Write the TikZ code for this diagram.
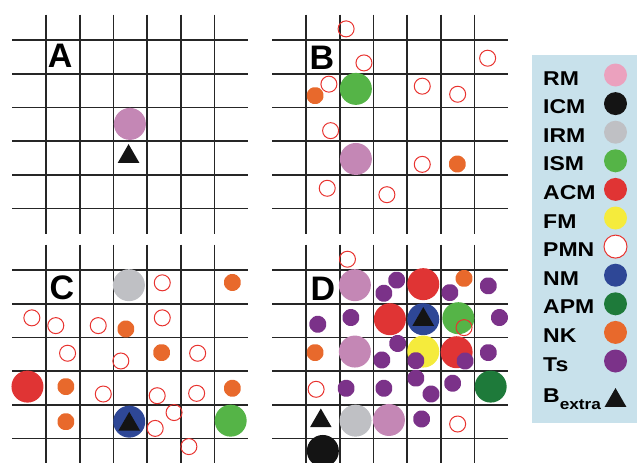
\documentclass[tikz,border=0pt]{standalone}
\usepackage{fontspec}
\setmainfont{Liberation Sans}
\newfontfamily\legendfont{Liberation Sans}[FakeStretch=1.15]
\usetikzlibrary{shapes.geometric}

\definecolor{rmpink}{HTML}{C487B5}
\definecolor{rmlegend}{HTML}{EBA1BE}
\definecolor{icmblack}{HTML}{141414}
\definecolor{irmgray}{HTML}{BFC0C4}
\definecolor{ismgreen}{HTML}{55B447}
\definecolor{acmred}{HTML}{E03434}
\definecolor{fmyellow}{HTML}{F5EB3C}
\definecolor{pmnred}{HTML}{E8332F}
\definecolor{nmblue}{HTML}{2E4796}
\definecolor{apmgreen}{HTML}{1E7A3A}
\definecolor{nkorange}{HTML}{E8692C}
\definecolor{tspurple}{HTML}{7B3289}
\definecolor{legendbg}{HTML}{C8E1EB}

\begin{document}
\begin{tikzpicture}[x=1pt, y=-1pt,
    gridline/.style={line width=1.6pt, black!85},
    pmn/.style={draw=pmnred, line width=1pt},
    small/.style={regular polygon, regular polygon sides=8, minimum size=18pt,
        inner sep=0pt, fill=#1, rounded corners=1.5pt},
    bextra/.style={regular polygon, regular polygon sides=3, minimum size=25pt,
        inner sep=0pt, fill=icmblack},
    panellabel/.style={font=\bfseries\fontsize{34}{34}\selectfont},
    legtext/.style={anchor=base west, inner sep=0pt,
        font=\legendfont\bfseries\fontsize{20}{20}\selectfont}]
    \useasboundingbox (0,0) rectangle (637,463);
    \clip (0,0) rectangle (637,463);

    % 面板 A
    \begin{scope}[xshift=46pt, yshift=-40pt, x=33.7pt, y=-33.7pt]
        \foreach \j in {0,...,5} \draw[gridline] (-1,\j) -- (6,\j);
        \foreach \i in {0,...,5} \draw[gridline] (\i,-0.75) -- (\i,5.75);
        \node[panellabel] (labA) at (0.42,0.48) {A};
        \fill[rmpink] (2.49,2.49) circle (16pt);
        \node[bextra] (triA) at (2.45,3.46) {};
    \end{scope}

    % 面板 B
    \begin{scope}[xshift=306pt, yshift=-40pt, x=33.7pt, y=-33.7pt]
        \foreach \j in {0,...,5} \draw[gridline] (-1,\j) -- (6,\j);
        \foreach \i in {0,...,5} \draw[gridline] (\i,-0.75) -- (\i,5.75);
        \node[panellabel] (labB) at (0.47,0.54) {B};
        \fill[ismgreen] (1.48,1.45) circle (16pt);
        \fill[rmpink] (1.48,3.53) circle (16pt);
        \foreach \p [count=\n] in {(0.27,1.65),(4.49,3.68)}
            \node[small=nkorange] (nkB\n) at \p {};
        \foreach \p in {(1.19,-0.33),(1.72,0.68),(5.39,0.54),(0.68,1.31),(3.45,1.37),
            (4.50,1.61),(0.73,2.69),(3.45,3.69),(0.63,4.40),(2.40,4.59)}
            \draw[pmn] \p circle (8pt);
    \end{scope}

    % 面板 C
    \begin{scope}[xshift=46pt, yshift=-270pt, x=33.7pt, y=-33.7pt]
        \foreach \j in {0,...,5} \draw[gridline] (-1,\j) -- (6,\j);
        \foreach \i in {0,...,5} \draw[gridline] (\i,-0.75) -- (\i,5.75);
        \node[panellabel] (labC) at (0.47,0.54) {C};
        \fill[irmgray] (2.46,0.45) circle (16pt);
        \fill[acmred] (-0.55,3.46) circle (16pt);
        \fill[nmblue] (2.47,4.50) circle (16pt);
        \fill[ismgreen] (5.48,4.47) circle (16pt);
        \foreach \p [count=\n] in {(5.53,0.37),(2.37,1.75),(3.43,2.45),(0.59,3.46),
            (5.53,3.51),(0.59,4.50)}
            \node[small=nkorange] (nkC\n) at \p {};
        \foreach \p in {(3.45,0.38),(-0.42,1.42),(0.29,1.65),(1.55,1.65),(3.45,1.42),
            (0.64,2.47),(2.22,2.70),(4.50,2.47),(1.70,3.68),(3.30,3.73),(4.47,3.66),
            (3.80,4.23),(3.24,4.70),(4.24,5.24)}
            \draw[pmn] \p circle (8pt);
        \node[bextra] (triC) at (2.47,4.58) {};
    \end{scope}

    % 面板 D
    \begin{scope}[xshift=306pt, yshift=-270pt, x=33.7pt, y=-33.7pt]
        \foreach \j in {0,...,5} \draw[gridline] (-1,\j) -- (6,\j);
        \foreach \i in {0,...,5} \draw[gridline] (\i,-0.75) -- (\i,5.75);
        \node[panellabel] (labD) at (0.50,0.56) {D};
        \foreach \p in {(1.45,0.45),(1.45,2.42),(2.46,4.45)}
            \fill[rmpink] \p circle (16pt);
        \foreach \p in {(3.48,0.42),(2.49,1.46),(4.47,2.44)}
            \fill[acmred] \p circle (16pt);
        \fill[nmblue] (3.48,1.46) circle (16pt);
        \fill[ismgreen] (4.52,1.43) circle (16pt);
        \fill[fmyellow] (3.48,2.42) circle (16pt);
        \fill[apmgreen] (5.48,3.46) circle (16pt);
        \fill[irmgray] (1.47,4.47) circle (16pt);
        \fill[icmblack] (0.50,5.37) circle (16pt);
        \foreach \p [count=\n] in {(4.69,0.25),(0.27,2.45)}
            \node[small=nkorange] (nkD\n) at \p {};
        \foreach \p [count=\n] in {(2.69,0.30),(2.31,0.69),(4.27,0.67),(5.41,0.47),
            (0.35,1.61),(1.33,1.41),(5.74,1.41),(2.72,2.18),(2.25,2.67),(3.26,2.69),
            (4.72,2.70),(5.41,2.45),(3.26,3.21),(1.19,3.51),(2.31,3.51),(3.71,3.68),
            (4.35,3.36),(3.43,4.42)}
            \node[small=tspurple] (tsD\n) at \p {};
        \foreach \p in {(1.23,-0.32),(4.69,1.71),(0.30,3.54),(4.50,4.57)}
            \draw[pmn] \p circle (8pt);
        \node[bextra] (triD1) at (3.48,1.47) {};
        \node[bextra] (triD2) at (0.44,4.48) {};
    \end{scope}

    % 图例
    \fill[legendbg] (532,55) rectangle (637,423);
    \foreach \name/\col [count=\k from 0] in {RM/rmlegend, ICM/icmblack, IRM/irmgray,
        ISM/ismgreen, ACM/acmred, FM/fmyellow, PMN/white, NM/nmblue, APM/apmgreen,
        NK/nkorange, Ts/tspurple} {
        \node[legtext] (leg\name) at (543,{85+28.6*\k}) {\name};
        \fill[\col] (615.5,{75+28.6*\k}) circle (11.5pt);
    }
    \draw[pmn] (615.5,{75+28.6*6}) circle (11.5pt);
    \node[legtext] (legB) at (543,402) {B\raisebox{-7pt}{\fontsize{15}{15}\selectfont extra}};
    \node[bextra] (legBtri) at (615.5,400.5) {};
\end{tikzpicture}
\end{document}
